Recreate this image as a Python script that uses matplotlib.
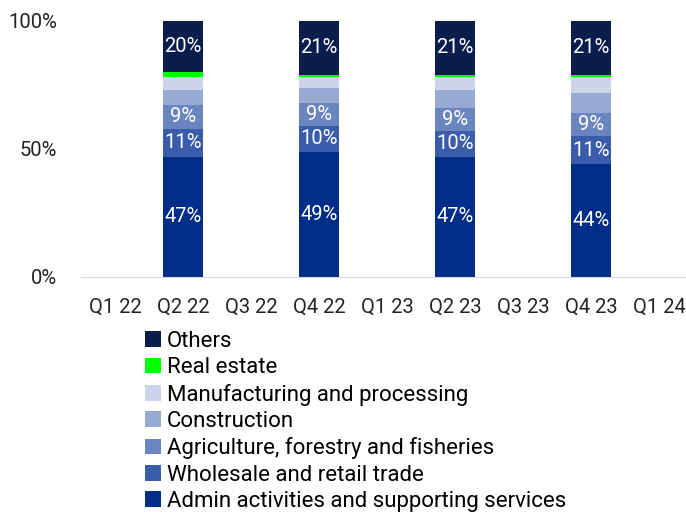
import matplotlib.pyplot as plt
import numpy as np

plt.rcParams['font.family'] = ['Roboto', 'DejaVu Sans']

quarters = ['Q1 22', 'Q2 22', 'Q3 22', 'Q4 22', 'Q1 23', 'Q2 23', 'Q3 23', 'Q4 23', 'Q1 24']
sectors = ['Admin activities and supporting services', 'Wholesale and retail trade',
           'Agriculture, forestry and fisheries', 'Construction',
           'Manufacturing and processing', 'Real estate', 'Others']
colors = ['#002d87', '#3a5cab', '#6a85c0', '#98aad2', '#cbd4e8', '#00ff00', '#0b1d4d']

# shares in percent, nan = no data for that quarter
admin = [np.nan, 47, np.nan, 49, np.nan, 47, np.nan, 44, np.nan]
wholesale = [np.nan, 11, np.nan, 10, np.nan, 10, np.nan, 11, np.nan]
agri = [np.nan, 9, np.nan, 9, np.nan, 9, np.nan, 9, np.nan]
constr = [np.nan, 6, np.nan, 6, np.nan, 7, np.nan, 8, np.nan]
manuf = [np.nan, 5, np.nan, 4, np.nan, 5, np.nan, 6, np.nan]
realest = [np.nan, 2, np.nan, 1, np.nan, 1, np.nan, 1, np.nan]
others = [np.nan, 20, np.nan, 21, np.nan, 21, np.nan, 21, np.nan]
labelled = [True, True, True, False, False, False, True]

series = [admin, wholesale, agri, constr, manuf, realest, others]

fig = plt.figure(figsize=(6.86, 5.12), dpi=100)
ax = fig.add_axes([81/686, 235/512, 612/686, 256/512])

x = np.arange(len(quarters))
bottom = np.zeros(len(quarters))
handles = []
for vals, name, c, lab in zip(series, sectors, colors, labelled):
    v = np.array(vals, dtype=float)
    b = ax.bar(x, np.nan_to_num(v), bottom=bottom, width=0.59, color=c, label=name)
    handles.append(b)
    if lab:
        for xi, vi, bi in zip(x, v, bottom):
            if not np.isnan(vi):
                ax.text(xi, bi + vi / 2, f'{vi:.0f}%', ha='center', va='center',
                        color='white', fontsize=14.5)
    bottom += np.nan_to_num(v)

ax.set_xlim(-0.5, len(quarters) - 0.5)
ax.set_ylim(0, 100)
ax.set_yticks([0, 50, 100])
ax.set_yticklabels(['0%', '50%', '100%'])
ax.set_xticks(x)
ax.set_xticklabels(quarters)
ax.tick_params(axis='both', length=0, labelsize=14.5, colors='#222222')
ax.tick_params(axis='x', pad=15)
ax.tick_params(axis='y', pad=17)
for s in ['top', 'right', 'left']:
    ax.spines[s].set_visible(False)
ax.spines['bottom'].set_color('#d9d9d9')

fig.legend(handles[::-1], sectors[::-1], loc='upper left', bbox_to_anchor=(145/686, 1 - 331/512),
           frameon=False, fontsize=16, handlelength=0.72, handleheight=0.72,
           handletextpad=0.25, labelspacing=0.24, borderpad=0, borderaxespad=0)

fig.savefig('out.png', dpi=100)
